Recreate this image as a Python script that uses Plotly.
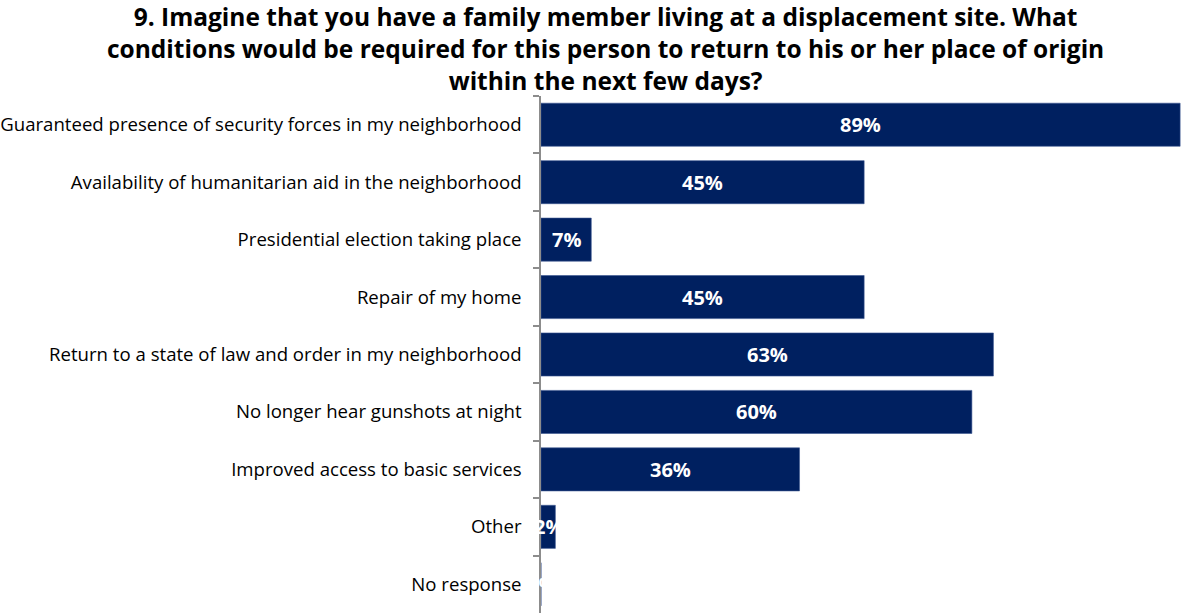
import plotly.graph_objects as go

categories = [
    "Guaranteed presence of security forces in my neighborhood",
    "Availability of humanitarian aid in the neighborhood",
    "Presidential election taking place",
    "Repair of my home",
    "Return to a state of law and order in my neighborhood",
    "No longer hear gunshots at night",
    "Improved access to basic services",
    "Other",
    "No response",
]
values = [89, 45, 7, 45, 63, 60, 36, 2, 0]
value_labels = [f"{v}%" for v in values]

title_lines = [
    "9. Imagine that you have a family member living at a displacement site. What",
    "conditions would be required for this person to return to his or her place of origin",
    "within the next few days?",
]

NAVY = "#002060"
FONT = "Open Sans"
WIDTH, HEIGHT = 1183, 613
LEFT, TOP = 541, 96

fig = go.Figure()
fig.add_trace(go.Bar(
    y=categories,
    x=values,
    orientation="h",
    marker=dict(color=NAVY, line=dict(color="#3a5690", width=0.6)),
    width=0.75,
    hoverinfo="skip",
))

# value labels centred on each bar
for cat, v, lab in zip(categories, values, value_labels):
    fig.add_annotation(
        x=v / 2, y=cat, xref="x", yref="y",
        text=f"<b>{lab}</b>", showarrow=False,
        font=dict(family=FONT, size=20, color="white"),
        xanchor="center", yanchor="middle",
    )

# three-line bold heading, centred slightly right of the page middle
title_center_px = 605
fig.add_annotation(
    x=(title_center_px - LEFT) / (WIDTH - LEFT), y=1.0,
    xref="paper", yref="paper", yshift=48,
    text="<b>" + "<br>".join(title_lines) + "</b>",
    showarrow=False, align="center",
    xanchor="center", yanchor="middle",
    font=dict(family=FONT, size=24.5, color="black"),
)

fig.update_layout(
    width=WIDTH, height=HEIGHT,
    margin=dict(l=LEFT, r=0, t=TOP, b=0),
    paper_bgcolor="white", plot_bgcolor="white",
    showlegend=False,
    font=dict(family=FONT, color="black"),
)
fig.update_xaxes(range=[0, 89.4], visible=False, fixedrange=True)
fig.update_yaxes(
    autorange="reversed",
    showline=True, linecolor="#8c8c8c", linewidth=1.5,
    ticks="outside", tickson="boundaries", ticklen=6, tickcolor="#8c8c8c", tickwidth=1.5,
    ticklabelstandoff=14,
    tickfont=dict(family=FONT, size=18.6, color="black"),
    showgrid=False, fixedrange=True,
)

fig.write_html("out.html")
